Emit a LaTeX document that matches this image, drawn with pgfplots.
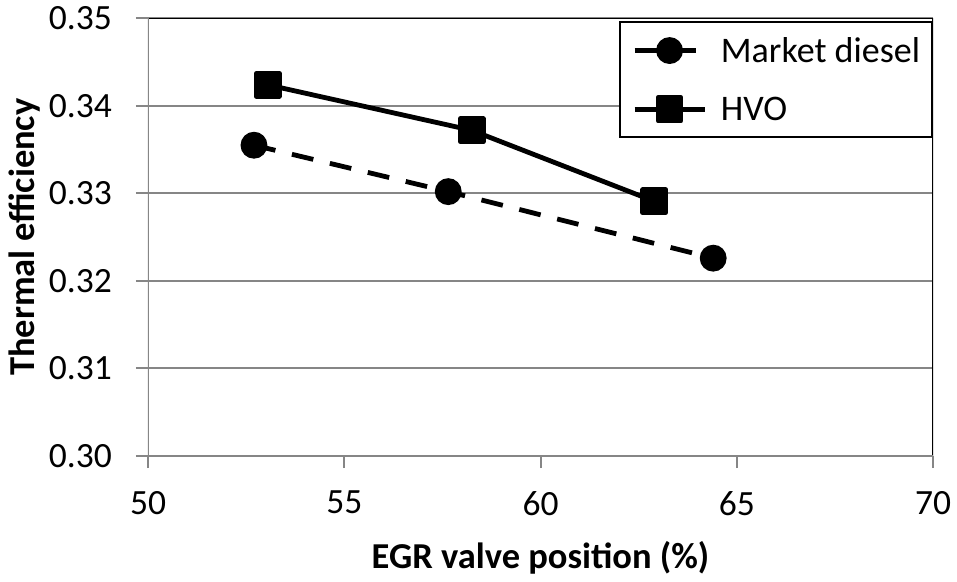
\documentclass[border=0pt]{standalone}
\usepackage{fontspec}
\setmainfont{Carlito}
\usepackage{pgfplots}
\pgfplotsset{compat=1.18}
\definecolor{gridgray}{RGB}{134,134,134}

\begin{document}
\begin{tikzpicture}
\path[use as bounding box] (-148pt,-125pt) rectangle (809pt,456pt);
\begin{axis}[
  at={(0pt,0pt)}, anchor=south west,
  scale only axis,
  width=785pt, height=437.7pt,
  xmin=50, xmax=70, ymin=0.30, ymax=0.35,
  xtick={50,55,60,65,70},
  ytick={0.30,0.31,0.32,0.33,0.34,0.35},
  xtick pos=bottom, ytick pos=left,
  tick align=outside, major tick length=12pt,
  tick style={gridgray, line width=2pt},
  axis line style={draw=none},
  ymajorgrids,
  major grid style={gridgray, line width=2pt},
  /pgf/number format/assume math mode=true,
  yticklabel style={/pgf/number format/.cd, fixed, fixed zerofill, precision=2},
  tick label style={font=\fontsize{35.5}{42}\selectfont, inner sep=0pt},
  xticklabel shift=23pt,
  yticklabel shift=24pt,
  xlabel={EGR valve position (\%)},
  ylabel={Thermal efficiency},
  label style={font=\bfseries\fontsize{36.5}{44}\selectfont},
  xlabel style={at={(axis description cs:0.5,-0.256)}, anchor=base},
  ylabel style={at={(axis description cs:-0.144,0.5)}, anchor=base},
  legend style={at={(rel axis cs:1,1)}, anchor=north east, yshift=-3pt,
    draw=black, line width=2pt, fill=white,
    inner xsep=12pt, inner ysep=15pt, row sep=33pt, column sep=14pt,
    font=\fontsize{36}{43}\selectfont, nodes={inner sep=0pt}, cells={anchor=west}},
  legend image code/.code={%
    \draw[mark repeat=2,mark phase=2,#1] plot coordinates {(0pt,0pt) (35pt,0pt) (70pt,0pt)};},
]
\draw[black, line width=2pt] (rel axis cs:0,1) -- (rel axis cs:1,1) -- (rel axis cs:1,0);
\draw[gridgray, line width=2.5pt] (rel axis cs:0,1) -- (rel axis cs:0,0) -- (rel axis cs:1,0);

\addplot[black, line width=4.8pt, dash pattern=on 22pt off 17pt,
  mark=*, mark size=11pt, mark options={solid}]
  coordinates {(52.70,0.3355) (57.65,0.3302) (64.40,0.3226)};
\addlegendentry{Market diesel}

\addplot[black, line width=4.8pt, line join=round,
  mark=square*, mark size=11.5pt, mark options={solid}]
  coordinates {(53.05,0.3424) (58.25,0.3372) (62.90,0.3291)};
\addlegendentry{HVO}
\end{axis}
\end{tikzpicture}
\end{document}
